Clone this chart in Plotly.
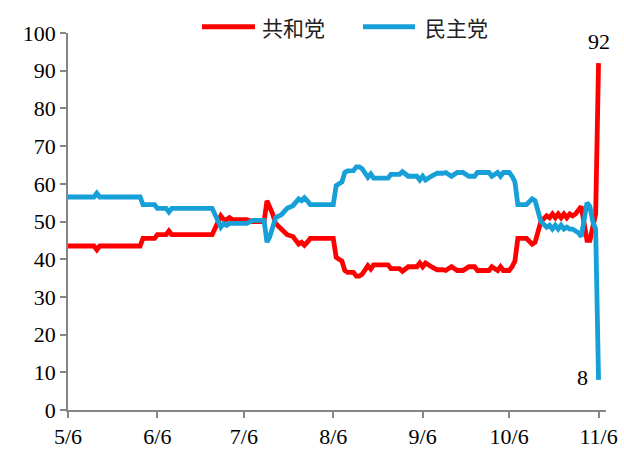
import plotly.graph_objects as go

dates = [
    "2024-05-06", "2024-05-15", "2024-05-16", "2024-05-17", "2024-05-31",
    "2024-06-01", "2024-06-05", "2024-06-06", "2024-06-09", "2024-06-10",
    "2024-06-11", "2024-06-25", "2024-06-28", "2024-06-29", "2024-06-30",
    "2024-07-01", "2024-07-02", "2024-07-03", "2024-07-07", "2024-07-09",
    "2024-07-13", "2024-07-14", "2024-07-15", "2024-07-16", "2024-07-17",
    "2024-07-19", "2024-07-21", "2024-07-23", "2024-07-24", "2024-07-25",
    "2024-07-26", "2024-07-27", "2024-07-28", "2024-07-29", "2024-08-06",
    "2024-08-07", "2024-08-08", "2024-08-09", "2024-08-10", "2024-08-11",
    "2024-08-13", "2024-08-14", "2024-08-15", "2024-08-16", "2024-08-18",
    "2024-08-19", "2024-08-20", "2024-08-25", "2024-08-26", "2024-08-29",
    "2024-08-30", "2024-09-01", "2024-09-04", "2024-09-05", "2024-09-06",
    "2024-09-07", "2024-09-09", "2024-09-11", "2024-09-13", "2024-09-14",
    "2024-09-16", "2024-09-18", "2024-09-20", "2024-09-22", "2024-09-24",
    "2024-09-25", "2024-09-29", "2024-09-30", "2024-10-02", "2024-10-03",
    "2024-10-04", "2024-10-06", "2024-10-07", "2024-10-08", "2024-10-09",
    "2024-10-12", "2024-10-14", "2024-10-15", "2024-10-17", "2024-10-18",
    "2024-10-19", "2024-10-20", "2024-10-21", "2024-10-22", "2024-10-23",
    "2024-10-24", "2024-10-25", "2024-10-26", "2024-10-27", "2024-10-28",
    "2024-10-29", "2024-10-30", "2024-10-31", "2024-11-01", "2024-11-02",
    "2024-11-03", "2024-11-04", "2024-11-05", "2024-11-06",
]

republican = [
    43.5, 43.5, 42.5, 43.5, 43.5,
    45.5, 45.5, 46.5, 46.5, 47.5,
    46.5, 46.5, 51.5, 50.5, 50.5,
    51.0, 50.5, 50.5, 50.5, 50.0,
    50.0, 55.5, 54.0, 52.0, 49.5,
    48.2, 46.5, 46.0, 45.0, 44.0,
    44.5, 43.7, 44.5, 45.5, 45.5,
    40.5, 40.0, 39.5, 37.0, 36.5,
    36.5, 35.5, 35.5, 36.0, 38.3,
    37.4, 38.5, 38.5, 37.5, 37.5,
    36.8, 38.0, 38.0, 39.0, 38.0,
    39.0, 38.0, 37.2, 37.2, 37.0,
    38.0, 37.0, 37.0, 38.0, 38.0,
    37.0, 37.0, 38.0, 37.0, 38.0,
    37.0, 37.0, 38.0, 39.5, 45.5,
    45.5, 44.0, 44.5, 50.0, 51.0,
    51.5, 51.0, 52.0, 51.0, 52.0,
    51.0, 52.0, 51.0, 52.0, 51.5,
    52.0, 53.0, 54.0, 49.5, 45.0,
    45.0, 48.0, 52.0, 92.0,
]

democratic = [
    56.5, 56.5, 57.5, 56.5, 56.5,
    54.5, 54.5, 53.5, 53.5, 52.5,
    53.5, 53.5, 48.5, 49.5, 49.0,
    49.5, 49.5, 49.5, 49.5, 50.3,
    50.3, 44.5, 46.0, 48.5, 51.0,
    51.8, 53.5, 54.2, 55.0, 56.0,
    55.5, 56.3, 55.5, 54.5, 54.5,
    59.5, 60.0, 60.5, 63.0, 63.4,
    63.5, 64.5, 64.5, 64.0, 61.7,
    62.6, 61.5, 61.5, 62.5, 62.5,
    63.2, 62.0, 62.0, 61.0, 62.0,
    61.0, 62.0, 62.8, 62.8, 63.0,
    62.0, 63.0, 63.0, 62.0, 62.0,
    63.0, 63.0, 62.0, 63.0, 62.0,
    63.0, 63.0, 62.0, 60.5, 54.5,
    54.5, 56.0, 55.5, 50.0, 49.0,
    48.5, 49.0, 48.0, 49.0, 48.0,
    49.0, 48.0, 48.5, 48.0, 48.0,
    47.5, 47.0, 46.0, 50.5, 55.0,
    54.0, 50.0, 48.0, 8.0,
]

series_names = ["共和党", "民主党"]
tick_dates = ["2024-05-06", "2024-06-06", "2024-07-06", "2024-08-06",
              "2024-09-06", "2024-10-06", "2024-11-06"]
tick_labels = ["5/6", "6/6", "7/6", "8/6", "9/6", "10/6", "11/6"]
y_ticks = [0, 10, 20, 30, 40, 50, 60, 70, 80, 90, 100]

RED = "#FF0000"
BLUE = "#17A0D8"
AXIS = "#868686"
SERIF = "Times New Roman, Liberation Serif, DejaVu Serif, serif"
CJK = "Noto Sans CJK SC"

fig = go.Figure()
fig.add_trace(go.Scatter(x=dates, y=republican, name=series_names[0], mode="lines",
                         line=dict(color=RED, width=4.8)))
fig.add_trace(go.Scatter(x=dates, y=democratic, name=series_names[1], mode="lines",
                         line=dict(color=BLUE, width=4.8)))

fig.add_annotation(x=dates[-1], y=republican[-1], text=str(int(republican[-1])),
                   showarrow=False, yshift=22, xshift=0,
                   font=dict(family=SERIF, size=22, color="black"))
fig.add_annotation(x=dates[-1], y=democratic[-1], text=str(int(democratic[-1])),
                   showarrow=False, xshift=-16, yshift=2,
                   font=dict(family=SERIF, size=22, color="black"))

# manual legend (line samples + labels) above the plot area
legend_y = 1.0167
legend_items = [(0.249, 0.3476, 0.357, RED), (0.5483, 0.645, 0.6599, BLUE)]
for (x0, x1, xt, col), name in zip(legend_items, series_names):
    fig.add_shape(type="line", xref="paper", yref="paper",
                  x0=x0, x1=x1, y0=legend_y, y1=legend_y,
                  line=dict(color=col, width=5))
    fig.add_annotation(xref="paper", yref="paper", x=xt, y=legend_y,
                       xanchor="left", yanchor="middle", showarrow=False,
                       text=name, font=dict(family=CJK, size=21, color="#222222"))

fig.update_layout(
    width=624, height=449,
    margin=dict(l=68, r=18, t=33, b=39, autoexpand=False),
    paper_bgcolor="white", plot_bgcolor="white",
    font=dict(family=SERIF, size=22, color="black"),
    showlegend=False,
    xaxis=dict(type="date", range=["2024-05-06", "2024-11-08 14:00"],
               tickvals=tick_dates, ticktext=tick_labels, automargin=False,
               showgrid=False, zeroline=False,
               showline=True, linecolor=AXIS, linewidth=1.5,
               ticks="outside", ticklen=6, tickcolor=AXIS, tickwidth=1.5,
               tickfont=dict(family=SERIF, size=22, color="black")),
    yaxis=dict(range=[0, 100], tickvals=y_ticks, automargin=False,
               showgrid=False, zeroline=False,
               showline=True, linecolor=AXIS, linewidth=1.5,
               ticks="outside", ticklen=6, tickcolor=AXIS, tickwidth=1.5,
               tickfont=dict(family=SERIF, size=22, color="black")),
)

fig.write_html("out.html")
